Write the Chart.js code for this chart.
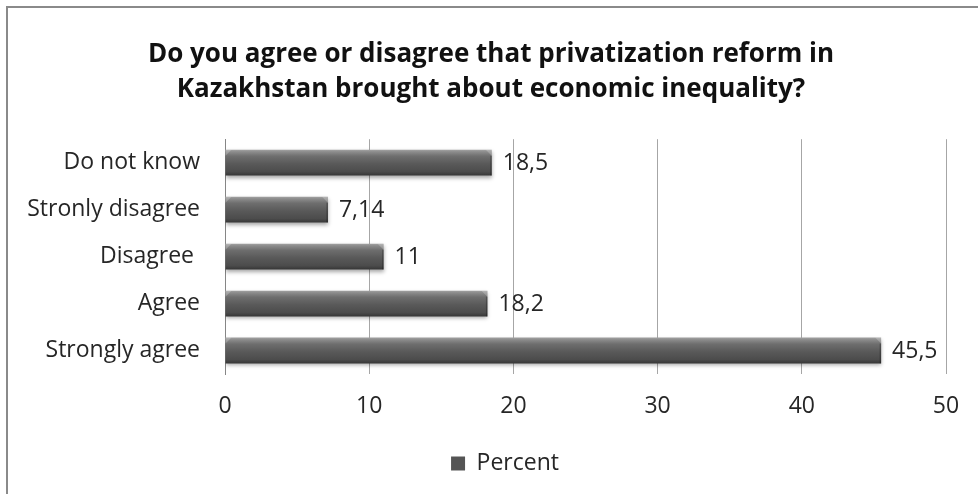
<!DOCTYPE html>
<html>
<head>
<meta charset="utf-8">
<title>Privatization reform survey</title>
<script src="https://cdn.jsdelivr.net/npm/chart.js@4.4.0/dist/chart.umd.min.js"></script>
<style>
  html, body { margin: 0; padding: 0; background: #fff; overflow: hidden; }
  #wrap { position: relative; width: 978px; height: 494px; }
  #frame { position: absolute; left: 6px; top: 6px; right: -10px; bottom: -10px;
           border-left: 2px solid #8a8a8a; border-top: 2px solid #8a8a8a; pointer-events: none; }
  canvas { position: absolute; left: 0; top: 0; }
</style>
</head>
<body>
<div id="wrap">
  <canvas id="privChart" width="978" height="494"></canvas>
  <div id="frame"></div>
</div>
<script>
(function () {
  'use strict';

  const titleLines = ['Do you agree or disagree that privatization reform in',
                      'Kazakhstan brought about economic inequality?'];
  const categories = ['Do not know', 'Stronly disagree', 'Disagree ', 'Agree', 'Strongly agree'];
  const percentValues = [18.5, 7.14, 11, 18.2, 45.5];
  const xTicks = [0, 10, 20, 30, 40, 50];
  const seriesName = 'Percent';

  const FONT = '"Open Sans", "Noto Sans", sans-serif';
  const TEXT = '#262626';
  const SIZE = 23;

  function fmt(v) {
    return String(v).replace('.', ',');
  }

  function barGradient(ctx, top, bottom) {
    const g = ctx.createLinearGradient(0, top, 0, bottom);
    g.addColorStop(0, '#a2a2a2');
    g.addColorStop(0.08, '#8c8c8c');
    g.addColorStop(0.25, '#6e6e6e');
    g.addColorStop(0.55, '#595959');
    g.addColorStop(0.85, '#4c4c4c');
    g.addColorStop(1, '#363636');
    return g;
  }

  function shiftBox(box, dx) {
    if (!box) return;
    box.left += dx;
    box.right += dx;
  }

  // title and legend sit a little right of the plot's centre
  const boxShift = {
    id: 'boxShift',
    afterLayout(chart) {
      shiftBox(chart.titleBlock, 18);
      shiftBox(chart.legend, 32);
    }
  };

  // grey "cylinder" shading plus a soft drop shadow under the bars
  const barShade = {
    id: 'barShade',
    beforeDatasetsDraw(chart) {
      const ctx = chart.ctx;
      chart.getDatasetMeta(0).data.forEach(bar => {
        const top = bar.y - bar.height / 2;
        const bottom = bar.y + bar.height / 2;
        // bars share one options object, so give each its own copy
        bar.options = Object.assign({}, bar.options, { backgroundColor: barGradient(ctx, top, bottom) });
      });
      ctx.save();
      ctx.shadowColor = 'rgba(0,0,0,0.35)';
      ctx.shadowBlur = 4;
      ctx.shadowOffsetY = 2;
    },
    afterDatasetsDraw(chart) {
      const ctx = chart.ctx;
      ctx.restore();
      ctx.save();
      chart.getDatasetMeta(0).data.forEach(bar => {
        const top = bar.y - bar.height / 2;
        const bottom = bar.y + bar.height / 2;
        const b = 6;
        // bevelled ends
        ctx.fillStyle = 'rgba(255,255,255,0.22)';
        ctx.beginPath();
        ctx.moveTo(bar.x - b, top);
        ctx.lineTo(bar.x, top);
        ctx.lineTo(bar.x, top + b);
        ctx.closePath();
        ctx.fill();
        ctx.beginPath();
        ctx.moveTo(bar.base, top);
        ctx.lineTo(bar.base + b, top);
        ctx.lineTo(bar.base, top + b);
        ctx.closePath();
        ctx.fill();
        ctx.fillStyle = 'rgba(0,0,0,0.25)';
        ctx.fillRect(bar.x - 1.5, top + b, 1.5, bottom - top - b);
      });
      ctx.restore();

      // value labels to the right of each bar
      ctx.save();
      ctx.font = SIZE + 'px ' + FONT;
      ctx.fillStyle = TEXT;
      ctx.textAlign = 'left';
      ctx.textBaseline = 'middle';
      chart.getDatasetMeta(0).data.forEach((bar, i) => {
        ctx.fillText(fmt(percentValues[i]), bar.x + 11, bar.y + 1);
      });
      ctx.restore();
    }
  };

  const ctx = document.getElementById('privChart').getContext('2d');
  new Chart(ctx, {
    type: 'bar',
    data: {
      labels: categories,
      datasets: [{
        label: seriesName,
        data: percentValues,
        backgroundColor: '#555555',
        borderWidth: 0,
        categoryPercentage: 1,
        barPercentage: 0.55
      }]
    },
    options: {
      indexAxis: 'y',
      responsive: false,
      animation: false,
      devicePixelRatio: 1,
      layout: { padding: { left: 0, right: 32, top: 0, bottom: 9 } },
      scales: {
        x: {
          min: xTicks[0],
          max: xTicks[xTicks.length - 1],
          afterBuildTicks(scale) {
            scale.ticks = xTicks.map(v => ({ value: v }));
          },
          afterFit(scale) {
            scale.height = 68;
            scale.paddingLeft = 0;
            scale.paddingRight = 0;
          },
          ticks: { font: { family: FONT, size: SIZE }, color: TEXT, padding: 19 },
          grid: { color: '#a6a6a6', lineWidth: 1, drawTicks: false },
          border: { display: false }
        },
        y: {
          afterFit(scale) { scale.width = 225; },
          ticks: { font: { family: FONT, size: SIZE }, color: TEXT, padding: 25 },
          grid: { display: false, drawTicks: false },
          border: { display: true, color: '#868686', width: 1 }
        }
      },
      plugins: {
        title: {
          display: true,
          text: titleLines,
          color: '#111',
          font: { family: FONT, size: 26, weight: 'bold', lineHeight: 1.35 },
          padding: { top: 37, bottom: 32 }
        },
        legend: {
          position: 'bottom',
          labels: {
            font: { family: FONT, size: SIZE },
            color: TEXT,
            boxWidth: 14,
            boxHeight: 14,
            padding: 10
          }
        },
        tooltip: { enabled: false }
      }
    },
    plugins: [boxShift, barShade]
  });
})();
</script>
</body>
</html>
